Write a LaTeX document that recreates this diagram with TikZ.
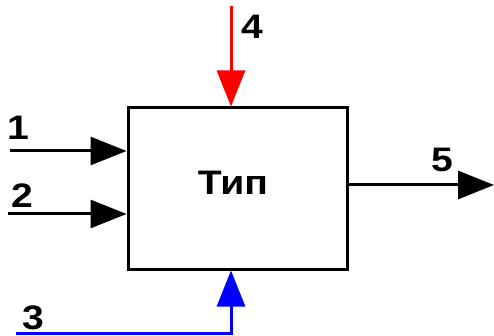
\documentclass[tikz,border=0pt]{standalone}
\usepackage{fontspec}
\setmainfont{Liberation Sans}[FakeStretch=1.15]
\usetikzlibrary{arrows.meta, positioning}

\begin{document}
\begin{tikzpicture}[
x=1pt, y=-1pt,
box/.style={rectangle, draw, line width=3pt, minimum width=219pt, minimum height=161pt, inner sep=0pt},
arrow/.style={-{Triangle[length=36pt, width=28pt]}, line width=3pt},
lbl/.style={inner sep=0pt, font=\bfseries\fontsize{34}{34}\selectfont}
]
\useasboundingbox (0,0) rectangle (494,336);

\node[box] (tip) at (237.5,188.5) {};
\node[lbl] (title) at (233,183) {Тип};

\coordinate (in1) at (10,151);
\coordinate (in2) at (8,214);
\coordinate (ctl) at (16,333);
\coordinate (mech) at (231,6);
\coordinate (out) at (494,185);

\draw[arrow] (in1) -- (in1 -| tip.west);
\draw[arrow] (in2) -- (in2 -| tip.west);
\draw[arrow, red] (mech) -- (mech |- tip.north);
\draw[arrow, blue] (ctl) -| (mech |- tip.south);
\draw[arrow] (out -| tip.east) -- (out);

\node[lbl] (n1) at (18,128) {1};
\node[lbl] (n2) at (22,196) {2};
\node[lbl] (n3) at (33,318) {3};
\node[lbl] (n4) at (252,27) {4};
\node[lbl] (n5) at (442,160) {5};

\end{tikzpicture}
\end{document}
